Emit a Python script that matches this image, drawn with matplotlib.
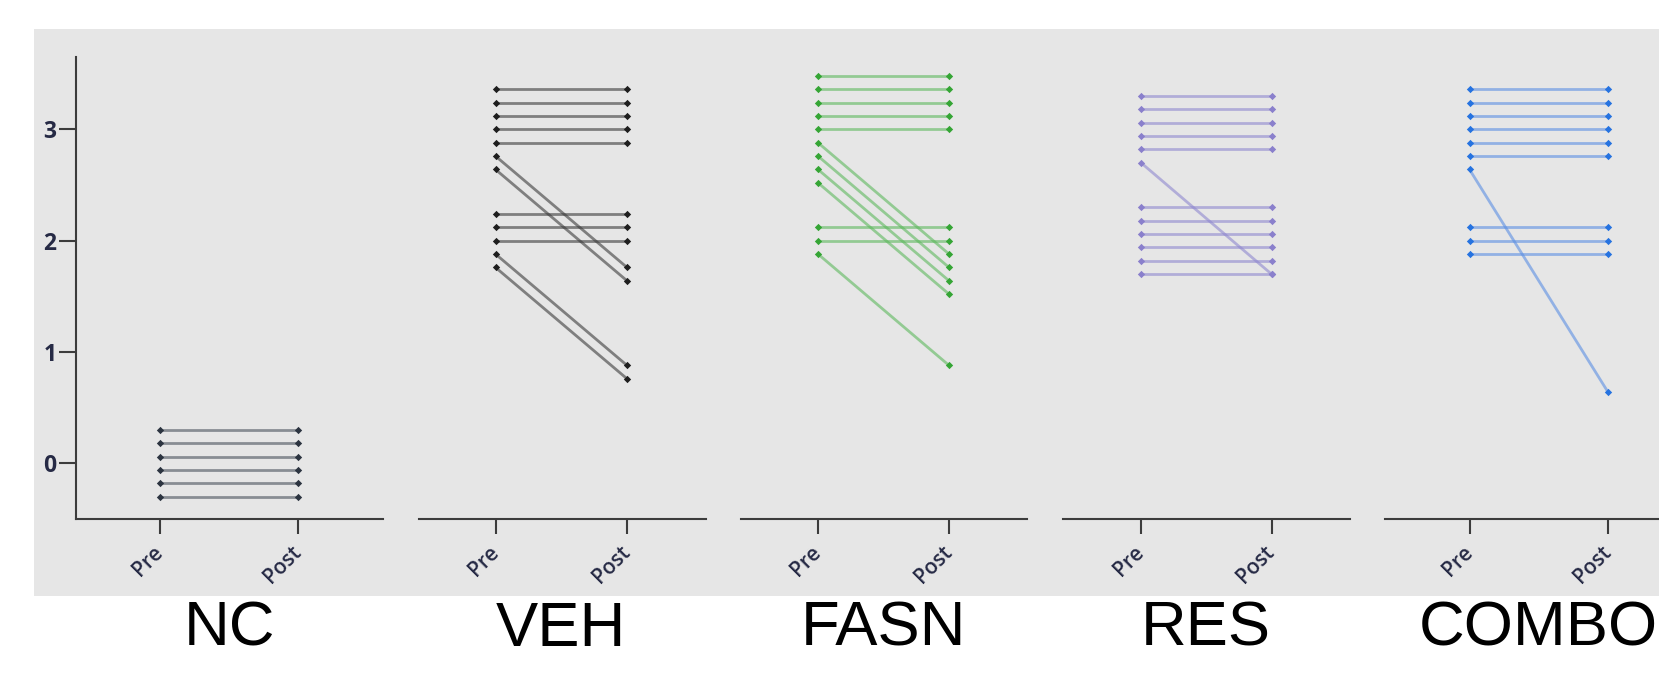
#!/usr/bin/env python3
"""
Paired pre/post plots for each treatment group, one panel per group,
with the group name written underneath each panel.
"""

import matplotlib.pyplot as plt
from matplotlib.patches import Rectangle

GROUPS = ["NC", "VEH", "FASN", "RES", "COMBO"]
TIMEPOINTS = ["Pre", "Post"]
Y_TICKS = [0, 1, 2, 3]

NC_PRE = [0.30, 0.18, 0.06, -0.06, -0.18, -0.30]
NC_POST = [0.30, 0.18, 0.06, -0.06, -0.18, -0.30]

VEH_PRE = [3.36, 3.24, 3.12, 3.00, 2.88, 2.76, 2.64, 2.24, 2.12, 2.00, 1.88, 1.76]
VEH_POST = [3.36, 3.24, 3.12, 3.00, 2.88, 1.76, 1.64, 2.24, 2.12, 2.00, 0.88, 0.76]

FASN_PRE = [3.48, 3.36, 3.24, 3.12, 3.00, 2.88, 2.76, 2.64, 2.52, 2.12, 2.00, 1.88]
FASN_POST = [3.48, 3.36, 3.24, 3.12, 3.00, 1.88, 1.76, 1.64, 1.52, 2.12, 2.00, 0.88]

RES_PRE = [3.30, 3.18, 3.06, 2.94, 2.82, 2.70, 2.30, 2.18, 2.06, 1.94, 1.82, 1.70]
RES_POST = [3.30, 3.18, 3.06, 2.94, 2.82, 1.70, 2.30, 2.18, 2.06, 1.94, 1.82, 1.70]

COMBO_PRE = [3.36, 3.24, 3.12, 3.00, 2.88, 2.76, 2.64, 2.12, 2.00, 1.88]
COMBO_POST = [3.36, 3.24, 3.12, 3.00, 2.88, 2.76, 0.64, 2.12, 2.00, 1.88]

# (marker colour, line colour) per group
GROUP_COLORS = [
    ("#2c3440", "#4a525c"),
    ("#1e1e1e", "#3a3a3a"),
    ("#35a535", "#5cb85c"),
    ("#8a80cc", "#8f87cf"),
    ("#2673e0", "#5a8ee3"),
]

W, H = 1659, 694
# panel layout in pixels: axis left, axis right, Pre x, Post x
PANELS = [
    (76, 383, 160, 298),
    (419, 706, 495.5, 627),
    (741, 1027, 818, 949),
    (1063, 1350, 1141, 1271.5),
    (1385, 1693, 1469.5, 1608),
]
AX_TOP, AX_BOTTOM = 57, 519
YLIM = (-0.5, 3.65)

INK = "#262a45"
SPINE = "#3c3c3c"
TICK_FONT = "Open Sans"


def draw_panel(ax, pre, post, marker_color, line_color):
    for a, b in zip(pre, post):
        ax.plot([0, 1], [a, b], color=line_color, lw=2.0, alpha=0.6,
                solid_capstyle="butt", zorder=2)
    ax.scatter([0] * len(pre), pre, s=14, marker="D", color=marker_color,
               linewidths=0, zorder=3)
    ax.scatter([1] * len(post), post, s=14, marker="D", color=marker_color,
               linewidths=0, zorder=3)


def main():
    series = [
        (NC_PRE, NC_POST),
        (VEH_PRE, VEH_POST),
        (FASN_PRE, FASN_POST),
        (RES_PRE, RES_POST),
        (COMBO_PRE, COMBO_POST),
    ]

    fig = plt.figure(figsize=(W / 100, H / 100), dpi=100)
    fig.patch.set_facecolor("white")

    # grey backdrop behind all panels
    fig.patches.append(
        Rectangle((34 / W, 1 - 596 / H), 1 - 34 / W, (596 - 29) / H,
                  transform=fig.transFigure, facecolor="#e6e6e6",
                  edgecolor="none", zorder=-10)
    )

    for i, (name, (pre, post), (mc, lc), geom) in enumerate(
        zip(GROUPS, series, GROUP_COLORS, PANELS)
    ):
        left, right, x_pre, x_post = geom
        unit = x_post - x_pre
        ax = fig.add_axes([left / W, 1 - AX_BOTTOM / H,
                           (right - left) / W, (AX_BOTTOM - AX_TOP) / H])
        ax.set_facecolor("none")
        ax.set_zorder(1)

        draw_panel(ax, pre, post, mc, lc)

        ax.set_xlim((left - x_pre) / unit, (right - x_pre) / unit)
        ax.set_ylim(*YLIM)

        for side in ["top", "right"]:
            ax.spines[side].set_visible(False)
        ax.spines["bottom"].set_color(SPINE)
        ax.spines["bottom"].set_linewidth(1.5)

        ax.set_xticks([0, 1])
        ax.set_xticklabels(TIMEPOINTS)
        ax.tick_params(axis="x", length=11, width=1.5, color=SPINE, pad=11,
                       labelsize=15, labelcolor=INK)
        for lab in ax.get_xticklabels():
            lab.set_rotation(45)
            lab.set_ha("right")
            lab.set_va("center")
            lab.set_rotation_mode("anchor")
            lab.set_family(TICK_FONT)
            lab.set_weight("semibold")

        if i == 0:
            ax.spines["left"].set_color(SPINE)
            ax.spines["left"].set_linewidth(1.5)
            ax.set_yticks(Y_TICKS)
            ax.tick_params(axis="y", length=12, width=1.5, color=SPINE, pad=2,
                           labelsize=16.5, labelcolor=INK)
            for lab in ax.get_yticklabels():
                lab.set_family(TICK_FONT)
                lab.set_weight("bold")
        else:
            ax.spines["left"].set_visible(False)
            ax.set_yticks([])

        # group name below the panel
        fig.text((x_pre + x_post) / 2 / W, 1 - 646 / H, name,
                 ha="center", va="baseline", fontsize=45.5,
                 family="Liberation Sans", color="black")

    fig.savefig("out.png", dpi=100)


if __name__ == "__main__":
    main()
